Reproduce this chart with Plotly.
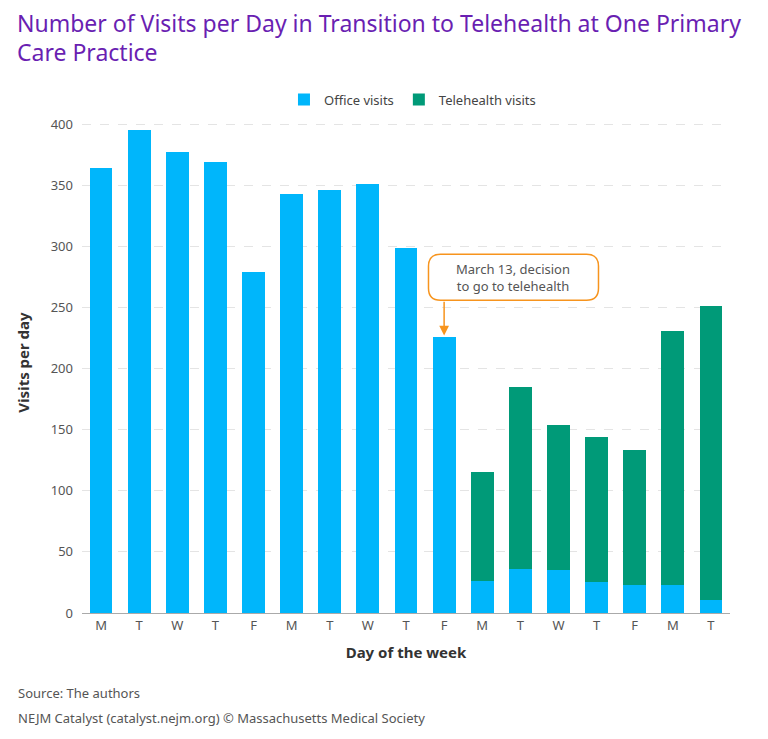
import plotly.graph_objects as go

# Daily visit counts, two consecutive weeks plus the following Mon/Tue
days = ["M", "T", "W", "T", "F", "M", "T", "W", "T", "F", "M", "T", "W", "T", "F", "M", "T"]
office_visits = [364, 395, 377, 369, 279, 343, 346, 351, 299, 226, 26, 36, 35, 25, 23, 23, 11]
telehealth_visits = [0, 0, 0, 0, 0, 0, 0, 0, 0, 0, 89, 149, 119, 119, 110, 208, 240]

decision_day = 9  # Friday, March 13

OFFICE_COLOR = "#00b6fb"
TELE_COLOR = "#009a78"
ORANGE = "#f7941d"
FONT = "Noto Sans"
PLOT_H = 501


def main():
    x = list(range(len(days)))

    fig = go.Figure()
    fig.add_trace(go.Bar(x=x, y=office_visits, name="Office visits",
                         marker=dict(color=OFFICE_COLOR, line=dict(width=0))))
    fig.add_trace(go.Bar(x=x, y=telehealth_visits, name="Telehealth visits",
                         marker=dict(color=TELE_COLOR, line=dict(width=0))))

    # Rounded callout box (sizes in px converted to data units)
    px_x = 648 / len(days)     # px per category
    px_y = PLOT_H / 410        # px per visit
    x0, x1 = decision_day - 0.41, decision_day + 4.05
    y0, y1 = 256, 293.5
    rx, ry = 12 / px_x, 12 / px_y
    path = (f"M {x0 + rx},{y1} L {x1 - rx},{y1} Q {x1},{y1} {x1},{y1 - ry} "
            f"L {x1},{y0 + ry} Q {x1},{y0} {x1 - rx},{y0} "
            f"L {x0 + rx},{y0} Q {x0},{y0} {x0},{y0 + ry} "
            f"L {x0},{y1 - ry} Q {x0},{y1} {x0 + rx},{y1} Z")
    fig.add_shape(type="path", path=path, xref="x", yref="y",
                  line=dict(color=ORANGE, width=1.5), fillcolor="white")
    fig.add_annotation(x=(x0 + x1) / 2, y=(y0 + y1) / 2, xref="x", yref="y",
                       text="March 13, decision<br>to go to telehealth", showarrow=False,
                       font=dict(family=FONT, size=13, color="#555555"))
    fig.add_annotation(x=decision_day, y=office_visits[decision_day] + 1, xref="x", yref="y",
                       ax=decision_day, ay=y0, axref="x", ayref="y", text="",
                       showarrow=True, arrowhead=2, arrowsize=1.3, arrowwidth=1.5,
                       arrowcolor=ORANGE)

    # Title, one annotation per line
    title_lines = ["Number of Visits per Day in Transition to Telehealth at One Primary",
                   "Care Practice"]
    for i, line in enumerate(title_lines):
        fig.add_annotation(x=0, y=1 + (89 - 29 * i) / PLOT_H, xref="paper", yref="paper",
                           xanchor="left", yanchor="middle", align="left", xshift=-66,
                           text=line, showarrow=False, borderpad=0,
                           font=dict(family=FONT, size=23, color="#6a1fb2"))

    # Source lines
    fig.add_annotation(x=0, y=-80 / PLOT_H, xref="paper", yref="paper", xanchor="left",
                       yanchor="middle", text="Source: The authors", showarrow=False, xshift=-66,
                       font=dict(family=FONT, size=13, color="#555555"))
    fig.add_annotation(x=0, y=-105 / PLOT_H, xref="paper", yref="paper", xanchor="left",
                       yanchor="middle",
                       text="NEJM Catalyst (catalyst.nejm.org) © Massachusetts Medical Society",
                       showarrow=False, xshift=-66,
                       font=dict(family=FONT, size=13, color="#555555"))

    fig.update_layout(
        width=760, height=731,
        barmode="stack", bargap=0.4,
        plot_bgcolor="white", paper_bgcolor="white",
        margin=dict(l=74, r=38, t=104, b=126),
        font=dict(family=FONT, color="#555555"),
        legend=dict(orientation="h", x=0.51, xanchor="center", y=0.995, yanchor="bottom",
                    font=dict(family=FONT, size=13, color="#444444"), traceorder="normal"),
        showlegend=True,
    )
    fig.update_xaxes(tickvals=x, ticktext=days, range=[-0.5, len(days) - 0.5],
                     showline=True, linecolor="#aaaaaa", linewidth=1, ticks="",
                     tickfont=dict(size=13, color="#555555"),
                     title=dict(text="<b>Day of the week</b>", font=dict(size=15, color="#333333"),
                                standoff=14))
    fig.update_yaxes(range=[0, 410], tickvals=[0, 50, 100, 150, 200, 250, 300, 350, 400],
                     showgrid=True, gridcolor="#e4e4e4", griddash="dash", zeroline=False,
                     tickfont=dict(size=13, color="#555555"), ticklabelstandoff=8,
                     title=dict(text="<b>Visits per day</b>", font=dict(size=15, color="#333333"),
                                standoff=17))

    fig.write_html("out.html")


if __name__ == "__main__":
    main()
